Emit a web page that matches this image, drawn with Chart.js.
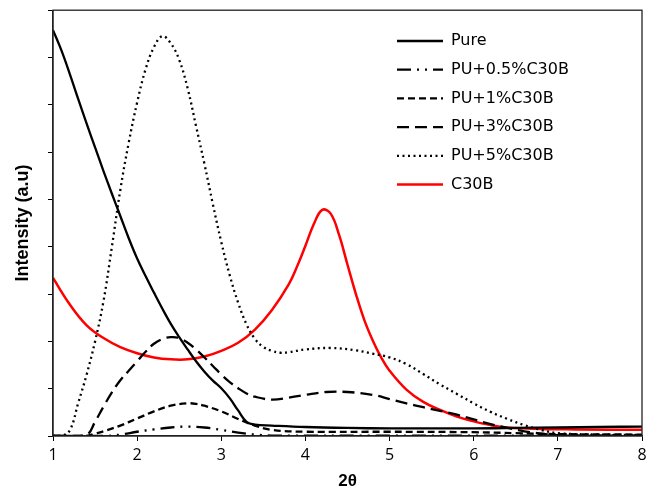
<!DOCTYPE html>
<html lang="en">
<head>
  <meta charset="UTF-8">
  <title>XRD - Intensity vs 2θ</title>
  <script src="https://cdn.jsdelivr.net/npm/chart.js"></script>
  <style>
    body {margin: 0; background: #fff;}
    #xrdChart {display: block;}
  </style>
</head>
<body>

<canvas id="xrdChart" width="648" height="492"></canvas>

<script>
  // ข้อมูลอ่านจากกราฟ (2θ, intensity a.u.)
  const seriesNames = ['Pure', 'PU+0.5%C30B', 'PU+1%C30B', 'PU+3%C30B', 'PU+5%C30B', 'C30B'];
  const xTicks = [1, 2, 3, 4, 5, 6, 7, 8];

  const pureX = [1.0, 1.1, 1.2, 1.3, 1.4, 1.5, 1.6, 1.7, 1.8, 1.9, 2.0, 2.1, 2.2, 2.3, 2.4, 2.5, 2.6, 2.7, 2.8, 2.9, 3.0, 3.1, 3.2, 3.3, 3.4, 3.6, 4.0, 4.5, 5.0, 5.5, 6.0, 6.5, 7.0, 7.5, 8.0];
  const pureY = [8.58, 8.15, 7.65, 7.12, 6.6, 6.1, 5.6, 5.12, 4.65, 4.18, 3.75, 3.38, 3.03, 2.69, 2.37, 2.09, 1.83, 1.58, 1.36, 1.17, 1.01, 0.8, 0.54, 0.3, 0.24, 0.22, 0.19, 0.17, 0.16, 0.16, 0.16, 0.17, 0.18, 0.19, 0.2];

  const pu05X = [1.0, 1.6, 1.8, 2.0, 2.2, 2.4, 2.6, 2.8, 3.0, 3.2, 3.4, 3.6, 5.0, 8.0];
  const pu05Y = [0, 0, 0.03, 0.09, 0.14, 0.18, 0.2, 0.18, 0.13, 0.07, 0.03, 0.01, 0.01, 0.01];

  const pu1X = [1.0, 1.4, 1.5, 1.6, 1.8, 2.0, 2.2, 2.4, 2.6, 2.7, 2.8, 3.0, 3.2, 3.4, 3.6, 4.0, 5.0, 6.0, 6.5, 7.0, 8.0];
  const pu1Y = [0, 0, 0.05, 0.1, 0.22, 0.37, 0.52, 0.64, 0.69, 0.68, 0.64, 0.52, 0.36, 0.22, 0.13, 0.09, 0.09, 0.08, 0.06, 0.04, 0.03];

  const pu3X = [1.0, 1.2, 1.4, 1.5, 1.6, 1.7, 1.8, 1.9, 2.0, 2.1, 2.2, 2.3, 2.4, 2.5, 2.6, 2.7, 2.8, 2.9, 3.0, 3.1, 3.2, 3.3, 3.4, 3.6, 3.8, 4.0, 4.25, 4.5, 4.8, 5.0, 5.2, 5.4, 5.6, 5.8, 6.0, 6.2, 6.4, 6.6, 6.8, 7.0, 7.5, 8.0];
  const pu3Y = [0, 0, 0.02, 0.3, 0.62, 0.92, 1.18, 1.38, 1.58, 1.78, 1.95, 2.05, 2.09, 2.07, 1.97, 1.83, 1.66, 1.48, 1.3, 1.14, 1.01, 0.9, 0.83, 0.77, 0.81, 0.87, 0.93, 0.93, 0.87, 0.78, 0.69, 0.61, 0.53, 0.45, 0.35, 0.25, 0.17, 0.1, 0.05, 0.02, 0.01, 0.01];

  const pu5X = [1.0, 1.1, 1.2, 1.3, 1.4, 1.5, 1.6, 1.7, 1.8, 1.9, 2.0, 2.1, 2.2, 2.3, 2.4, 2.5, 2.6, 2.7, 2.8, 2.9, 3.0, 3.1, 3.2, 3.3, 3.4, 3.5, 3.6, 3.7, 3.8, 4.0, 4.3, 4.6, 4.8, 5.0, 5.2, 5.4, 5.6, 5.8, 6.0, 6.2, 6.4, 6.6, 6.8, 7.0, 7.5, 8.0];
  const pu5Y = [0, 0, 0.12, 0.7, 1.3, 2.0, 2.85, 4.0, 5.2, 6.2, 7.05, 7.75, 8.22, 8.45, 8.3, 7.95, 7.35, 6.55, 5.75, 4.9, 4.1, 3.4, 2.82, 2.36, 2.05, 1.88, 1.8, 1.76, 1.77, 1.83, 1.86, 1.81, 1.74, 1.66, 1.52, 1.31, 1.09, 0.89, 0.69, 0.51, 0.36, 0.23, 0.13, 0.06, 0.03, 0.02];

  const c30bX = [1.0, 1.2, 1.4, 1.6, 1.8, 2.0, 2.2, 2.4, 2.6, 2.8, 3.0, 3.2, 3.4, 3.6, 3.8, 3.9, 4.0, 4.1, 4.2, 4.3, 4.4, 4.5, 4.6, 4.7, 4.8, 4.9, 5.0, 5.2, 5.4, 5.6, 5.8, 6.0, 6.2, 6.4, 6.8, 7.2, 8.0];
  const c30bY = [3.34, 2.78, 2.34, 2.07, 1.88, 1.75, 1.66, 1.62, 1.62, 1.68, 1.8, 1.97, 2.25, 2.66, 3.2, 3.58, 4.02, 4.48, 4.78, 4.7, 4.25, 3.62, 3.0, 2.45, 2.02, 1.66, 1.38, 0.98, 0.72, 0.55, 0.41, 0.31, 0.23, 0.18, 0.15, 0.14, 0.13];

  const toPoints = (xs, ys) => xs.map((x, i) => ({x: x, y: ys[i]}));

  function line(label, xs, ys, color, dash, width) {
    return {
      label: label,
      data: toPoints(xs, ys),
      borderColor: color,
      borderDash: dash,
      borderWidth: width,
      pointRadius: 0,
      fill: false,
      tension: 0.4
    };
  }

  // legend เขียนเองให้เหมือนต้นฉบับ (เส้นตัวอย่าง + ข้อความ)
  const legendLines = {
    id: 'legendLines',
    afterDraw(chart) {
      const ctx = chart.ctx;
      const area = chart.chartArea;
      ctx.save();
      // กรอบรอบพื้นที่กราฟ
      ctx.strokeStyle = '#222';
      ctx.lineWidth = 1.3;
      ctx.setLineDash([]);
      ctx.strokeRect(area.left, area.top, area.right - area.left, area.bottom - area.top);

      chart.data.datasets.forEach((ds, i) => {
        const y = 41 + i * 28.7;
        ctx.strokeStyle = ds.borderColor;
        ctx.lineWidth = ds.borderWidth;
        ctx.setLineDash(ds.borderDash || []);
        ctx.beginPath();
        ctx.moveTo(397, y);
        ctx.lineTo(443, y);
        ctx.stroke();
        ctx.setLineDash([]);
        ctx.fillStyle = '#000';
        ctx.font = '16px "DejaVu Sans"';
        ctx.textBaseline = 'middle';
        ctx.fillText(ds.label, 451, y);
      });
      ctx.restore();
    }
  };

  const ctx = document.getElementById('xrdChart').getContext('2d');
  new Chart(ctx, {
    type: 'line',
    data: {
      datasets: [
        line(seriesNames[0], pureX, pureY, '#000', [], 2.3),
        line(seriesNames[1], pu05X, pu05Y, '#000', [14, 6, 2, 6, 2, 6], 2.3),
        line(seriesNames[2], pu1X, pu1Y, '#000', [7, 4], 2.3),
        line(seriesNames[3], pu3X, pu3Y, '#000', [12, 6], 2.3),
        line(seriesNames[4], pu5X, pu5Y, '#000', [2, 3.5], 2.3),
        line(seriesNames[5], c30bX, c30bY, '#ff0000', [], 2.5)
      ]
    },
    options: {
      responsive: false,
      animation: false,
      layout: { padding: { top: 7, right: 6, left: 0, bottom: 0 } },
      plugins: { legend: { display: false }, tooltip: { enabled: false } },
      scales: {
        x: {
          type: 'linear',
          min: 1,
          max: 8,
          afterFit: s => { s.height = 56; s.paddingRight = 0; s.paddingLeft = 0; },
          afterBuildTicks: s => { s.ticks = xTicks.map(v => ({value: v})); },
          ticks: { color: '#000', font: { family: 'Open Sans', size: 16 }, padding: 5 },
          grid: { drawOnChartArea: false, drawTicks: true, tickLength: 5, color: '#000' },
          border: { color: '#222', width: 1.3 },
          title: {
            display: true,
            text: '2θ',
            color: '#000',
            font: { family: 'Liberation Sans', size: 17, weight: 'bold' },
            padding: { top: 0, bottom: 0 }
          }
        },
        y: {
          min: 0,
          max: 9,
          afterFit: s => { s.width = 53; },
          ticks: { stepSize: 1, callback: () => '' },
          grid: { drawOnChartArea: false, drawTicks: true, tickLength: 5, color: '#000' },
          border: { color: '#222', width: 1.3 },
          title: {
            display: true,
            text: 'Intensity (a.u)',
            color: '#000',
            font: { family: 'Liberation Sans', size: 18, weight: 'bold' },
            padding: { top: 12, bottom: 0 }
          }
        }
      }
    },
    plugins: [legendLines]
  });
</script>

</body>
</html>
